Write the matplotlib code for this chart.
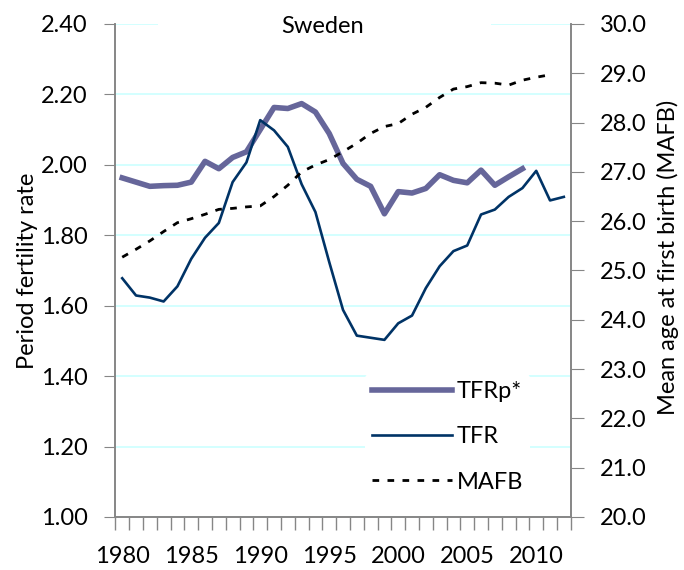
import numpy as np
import matplotlib.pyplot as plt
from matplotlib.patches import Rectangle
from matplotlib.ticker import FixedLocator

plt.rcParams['font.family'] = ['Lato', 'DejaVu Sans']

# Data
years = list(range(1980, 2013))
tfrp_years = list(range(1980, 2010))
tfrp = [1.963, 1.951, 1.939, 1.941, 1.942, 1.951, 2.010, 1.989, 2.021, 2.037,
        2.100, 2.163, 2.160, 2.174, 2.150, 2.089, 2.004, 1.959, 1.939, 1.861,
        1.924, 1.920, 1.933, 1.972, 1.956, 1.949, 1.985, 1.942, 1.966, 1.989]
tfr = [1.678, 1.629, 1.623, 1.612, 1.655, 1.733, 1.793, 1.835, 1.951, 2.007,
       2.127, 2.098, 2.051, 1.945, 1.866, 1.724, 1.588, 1.515, 1.509, 1.503,
       1.550, 1.572, 1.650, 1.712, 1.755, 1.771, 1.859, 1.873, 1.909, 1.934,
       1.983, 1.899, 1.909]
mafb_years = list(range(1980, 2012))
mafb = [25.27, 25.43, 25.60, 25.79, 25.97, 26.05, 26.14, 26.24, 26.26, 26.29,
        26.31, 26.50, 26.73, 27.00, 27.14, 27.25, 27.41, 27.58, 27.78, 27.92,
        27.98, 28.17, 28.31, 28.51, 28.68, 28.73, 28.81, 28.80, 28.76, 28.86,
        28.92, 28.97]

left_ticks = [1.00, 1.20, 1.40, 1.60, 1.80, 2.00, 2.20, 2.40]
right_ticks = [20, 21, 22, 23, 24, 25, 26, 27, 28, 29, 30]
x_labels = [1980, 1985, 1990, 1995, 2000, 2005, 2010]

purple = '#66669a'
navy = '#003366'
gray = '#868686'
fs = 17

fig = plt.figure(figsize=(6.84, 5.70), dpi=100)
ax = fig.add_axes([0.1686, 0.0930, 0.6658, 0.8649])
ax2 = ax.twinx()

l1, = ax.plot(tfrp_years, tfrp, color=purple, lw=4, solid_joinstyle='round', label='TFRp*', zorder=3)
l2, = ax.plot(years, tfr, color=navy, lw=1.9, label='TFR', zorder=3)
l3, = ax2.plot(mafb_years, mafb, color='black', lw=2.0, ls=(0, (2.4, 3.0)), label='MAFB')

ax.set_xlim(1979.5, 2012.5)
ax.set_ylim(1.0, 2.4)
ax2.set_ylim(20, 30)

ax.set_yticks(left_ticks)
ax.set_yticklabels([f'{v:.2f}' for v in left_ticks])
ax2.set_yticks(right_ticks)
ax2.set_yticklabels([f'{v:.1f}' for v in right_ticks])
ax.set_xticks(x_labels)
ax.set_xticklabels([str(v) for v in x_labels])
ax.xaxis.set_minor_locator(FixedLocator(np.arange(1979.5, 2013, 1.0)))

ax.yaxis.grid(True, color='#ccffff', lw=1.2)
ax.set_axisbelow(True)

ax.tick_params(axis='x', which='major', length=0, pad=21, labelsize=fs)
ax.tick_params(axis='x', which='minor', length=9, color=gray, width=1)
ax.tick_params(axis='y', length=8, color=gray, pad=12, labelsize=fs)
ax2.tick_params(axis='y', length=9, color=gray, pad=12, labelsize=fs)

for a in (ax, ax2):
    a.spines['top'].set_visible(False)
    for s in ('left', 'right', 'bottom'):
        a.spines[s].set_color(gray)
        a.spines[s].set_linewidth(1.2)

ax.set_ylabel('Period fertility rate', fontsize=fs)
ax.yaxis.set_label_coords(-0.17, 0.50)
ax2.set_ylabel('Mean age at first birth (MAFB)', fontsize=fs)
ax2.yaxis.set_label_coords(1.19, 0.527)

# title box sitting over the top gridline
ax2.add_patch(Rectangle((0.094, 0.98), 0.73, 0.05, transform=ax2.transAxes,
                        facecolor='white', edgecolor='none', clip_on=False, zorder=4))
ax2.text(0.455, 0.995, 'Sweden', transform=ax2.transAxes, ha='center', va='center',
         fontsize=fs, zorder=5)

# legend lives on the left axes, between the gridlines and the lines
leg = ax.legend(handles=[l1, l2, l3], loc='upper left', bbox_to_anchor=(0.548, 0.290),
                fontsize=fs, frameon=True, facecolor='white', edgecolor='none',
                framealpha=1, handlelength=3.4, handletextpad=0.2, labelspacing=1.03,
                borderpad=0.3, borderaxespad=0)
leg.set_zorder(2.5)

fig.savefig('out.png', dpi=100)
